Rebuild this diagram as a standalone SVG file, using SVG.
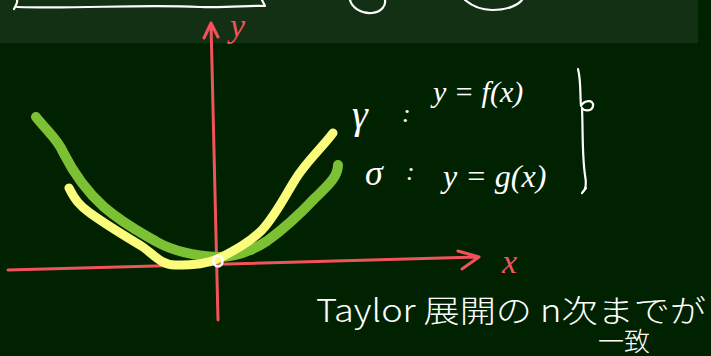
<svg xmlns="http://www.w3.org/2000/svg" width="711" height="356" viewBox="0 0 711 356">
<style>
.chalk{fill:none;stroke:#ffffff;stroke-width:2.2;stroke-linecap:round;stroke-linejoin:round}
.axis{fill:none;stroke:#f0545a;stroke-width:3;stroke-linecap:round;stroke-linejoin:round}
.red{fill:#f0545a;font-family:"Liberation Serif",serif;font-style:italic}
.wt{fill:#ffffff;font-family:"Liberation Serif","Noto Sans CJK JP",serif;font-style:italic}
.jp{fill:#ffffff;font-family:"Noto Sans CJK JP","Noto Sans",sans-serif;font-weight:300}
</style>
<rect width="711" height="356" fill="#012201"/>
<rect x="0" y="0" width="698" height="43" fill="#132f14"/>
<g id="top-sketch">
<path class="chalk" d="M14,9 Q18,2 17,0 M17,7 C80,9 140,4 200,7 C230,8 250,5 265,6 L262,0"/>
<path class="chalk" d="M350,0 C352,8 362,14 372,13 C382,12 386,5 385,0"/>
<path class="chalk" d="M465,0 C472,6 482,10 492,10 C508,10 518,5 522,0"/>
</g>
<g id="axes">
<path class="axis" d="M218,320 L211,23 M204,38 L211,23 L218,37"/>
<path class="axis" d="M8,270 L478,257 M458,251 L479,257 L462,269"/>
<text class="red" x="230" y="37" font-size="34">y</text>
<text class="red" x="502" y="273" font-size="34">x</text>
</g>
<g id="curve-gamma">
<path d="M36,117 C48,132 58,140 63,152 C72,170 85,190 104,207 C125,225 140,232 157,242 C175,252 200,256 218,257 C235,257 250,252 267,241 C285,228 300,214 315,198 C325,188 338,178 338,165" fill="none" stroke="#7cc133" stroke-width="10" stroke-linecap="round" stroke-linejoin="round"/>
</g>
<g id="curve-sigma">
<path d="M69,188 C75,200 80,206 90,213 C108,226 125,236 143,247 C155,256 162,265 175,265 C195,265 207,264 220,258 C235,250 250,242 262,230 C275,216 285,196 295,180 C305,163 320,150 333,133" fill="none" stroke="#fbfb7c" stroke-width="9" stroke-linecap="round" stroke-linejoin="round"/>
</g>
<g id="origin">
<ellipse cx="218" cy="261" rx="4.5" ry="5.5" fill="none" stroke="#ffffff" stroke-width="2.5"/>
</g>
<g id="definitions">
<text class="wt" x="352" y="128" font-size="40">γ</text>
<text class="wt" x="402" y="122" font-size="26">:</text>
<text class="wt" x="433" y="102" font-size="30">y = f(x)</text>
<text class="wt" x="365" y="185" font-size="36">σ</text>
<text class="wt" x="406" y="180" font-size="26">:</text>
<text class="wt" x="443" y="187" font-size="32">y = g(x)</text>
<path class="chalk" d="M578,69 C581,80 580,95 581,106 C584,100 594,99 593,106 C592,112 584,111 582,108 C583,130 582,155 585,175 C587,185 586,190 582,193 L586,188"/>
</g>
<g id="note">
<text class="jp" x="316" y="322" font-size="31" textLength="390" lengthAdjust="spacingAndGlyphs">Taylor 展開の n次までが</text>
<text class="jp" x="598" y="351" font-size="26">一致</text>
</g>
</svg>
